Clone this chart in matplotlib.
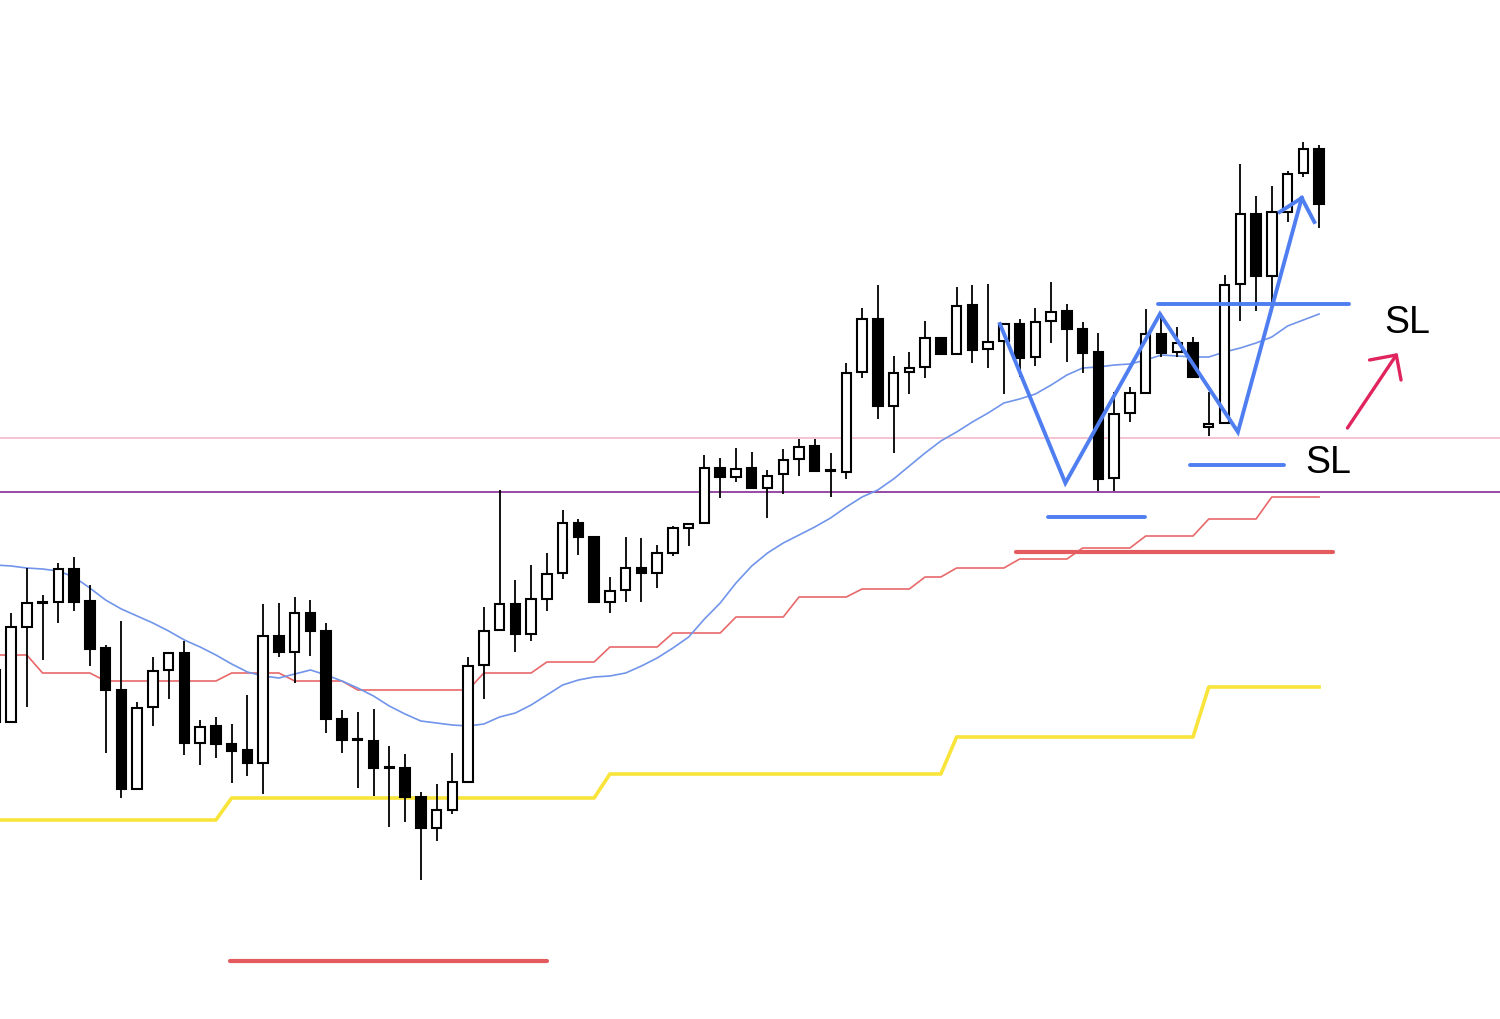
import numpy as np
import matplotlib.pyplot as plt

# OHLC (price units), first candle is cut at the left edge
opens = [330, 278, 373, 397, 398, 431, 399, 352, 310, 211, 293, 330, 347, 257, 274, 256, 250, 237, 364, 348,
         387, 369, 281, 261, 259, 233, 232, 203, 172, 190, 218, 335, 370, 396, 366, 401, 427, 477, 463, 398,
         410, 432, 427, 447, 472, 477, 532, 523, 532, 512, 526, 541, 554, 529, 528, 628, 681, 594, 628, 633,
         662, 646, 695, 651, 659, 676, 643, 679, 689, 671, 648, 522, 587, 607, 666, 648, 657, 573, 577, 716,
         786, 724, 788, 827, 851]
highs = [335, 387, 432, 405, 437, 443, 415, 355, 379, 298, 343, 348, 359, 280, 283, 276, 305, 396, 397, 403,
         400, 377, 290, 288, 291, 254, 246, 208, 216, 247, 343, 393, 510, 420, 435, 447, 490, 481, 463, 423,
         463, 462, 455, 474, 476, 545, 542, 552, 548, 530, 551, 561, 561, 547, 637, 692, 715, 644, 648, 679,
         662, 713, 715, 716, 676, 681, 692, 718, 696, 678, 667, 608, 613, 691, 687, 673, 663, 608, 725, 836,
         804, 814, 829, 858, 855]
lows = [275, 277, 293, 340, 377, 389, 334, 247, 202, 210, 274, 301, 245, 235, 242, 217, 224, 206, 343, 317,
        344, 267, 247, 212, 204, 173, 178, 120, 159, 186, 218, 301, 370, 348, 359, 389, 421, 445, 398, 387,
        398, 398, 412, 444, 454, 477, 502, 518, 512, 482, 506, 524, 528, 503, 521, 622, 581, 547, 606, 622,
        646, 646, 637, 632, 606, 623, 634, 657, 638, 627, 509, 509, 578, 607, 643, 643, 623, 564, 577, 679,
        689, 695, 778, 823, 772]
closes = [278, 373, 397, 398, 431, 398, 351, 310, 211, 292, 329, 347, 257, 273, 256, 249, 237, 364, 348, 387,
          369, 281, 260, 260, 232, 232, 203, 172, 190, 218, 334, 369, 396, 366, 401, 426, 477, 463, 398, 409,
          432, 427, 447, 472, 476, 532, 523, 531, 512, 524, 540, 553, 529, 529, 627, 681, 594, 627, 632, 662,
          646, 694, 650, 658, 676, 642, 678, 688, 671, 647, 521, 586, 607, 666, 647, 657, 623, 576, 715, 786,
          724, 788, 826, 851, 796]

# moving average (thin blue)
ma_blue = [435, 434, 432, 431, 429, 423, 412, 400, 391, 384, 377, 369, 360, 353, 345, 336, 328, 324, 322, 326,
           330, 325, 319, 312, 304, 294, 286, 279, 277, 275, 274, 276, 283, 287, 295, 305, 315, 320, 323, 324,
           327, 334, 342, 352, 363, 381, 397, 417, 434, 447, 457, 465, 473, 482, 493, 503, 510, 521, 534, 547,
           559, 568, 578, 587, 597, 601, 606, 615, 625, 632, 633, 635, 636, 640, 645, 644, 643, 643, 648, 652,
           657, 663, 674, 680, 686]
# higher timeframe levels
line_red = [345, 345, 345, 327, 327, 327, 327, 319, 319, 319, 319, 319, 319, 319, 319, 327, 327, 327, 327, 319,
            319, 319, 319, 310, 310, 310, 310, 310, 310, 310, 310, 327, 327, 327, 327, 338, 338, 338, 338, 353,
            353, 353, 353, 367, 367, 367, 367, 383, 383, 383, 383, 403, 403, 403, 403, 411, 411, 411, 411, 423,
            423, 432, 432, 432, 432, 441, 441, 441, 441, 452, 452, 452, 452, 464, 464, 464, 464, 481, 481, 481,
            481, 503, 503, 503, 503]
line_yellow = [180, 180, 180, 180, 180, 180, 180, 180, 180, 180, 180, 180, 180, 180, 180, 202, 202, 202, 202, 202,
               202, 202, 202, 202, 202, 202, 202, 202, 202, 202, 202, 202, 202, 202, 202, 202, 202, 202, 202, 226,
               226, 226, 226, 226, 226, 226, 226, 226, 226, 226, 226, 226, 226, 226, 226, 226, 226, 226, 226, 226,
               226, 263, 263, 263, 263, 263, 263, 263, 263, 263, 263, 263, 263, 263, 263, 263, 263, 313, 313, 313,
               313, 313, 313, 313, 313]

# horizontal levels
level_pink = 562
level_purple = 508

# drawn annotations (x in bar index, y in price)
zigzag_x = [62.75, 66.9, 72.9, 77.85, 81.9, 82.7]
zigzag_y = [676, 517, 686, 568, 802, 778]
zig_head_x = [80.5, 81.9]
zig_head_y = [788, 802]
blue_segments = [(65.8, 71.95, 483), (74.8, 80.8, 535), (72.8, 84.9, 696)]
red_segments = [(63.8, 83.9, 448), (13.9, 34.0, 39)]
arrow_x = [84.8, 87.9]
arrow_y = [572, 645]
arrow_head_x = [86.2, 87.9, 88.2]
arrow_head_y = [640, 645, 620]
labels = [("SL", 88.6, 677), ("SL", 83.6, 537)]

x = np.arange(-1, len(opens) - 1)
o = np.array(opens)
c = np.array(closes)

fig = plt.figure(figsize=(15, 10.19), dpi=100)
ax = fig.add_axes([0, 0, 1, 1])
ax.set_xlim(-0.7, 94.48)
ax.set_ylim(-19, 1000)
ax.axis('off')

ax.axhline(level_pink, color='#f3b9c9', lw=1.2, zorder=1)
ax.axhline(level_purple, color='#8e3a9e', lw=1.3, zorder=1)

ax.plot(x, line_yellow, color='#f8e43a', lw=2.6, zorder=2)
ax.plot(x, line_red, color='#e8686a', lw=1.2, zorder=2)
ax.plot(x, ma_blue, color='#7195ea', lw=1.2, zorder=2)

# candles
ax.vlines(x, lows, highs, color='black', lw=1.3, zorder=3)
bottom = np.minimum(o, c)
height = np.maximum(np.abs(c - o), 1)
face = ['black' if cc < oo else 'white' for oo, cc in zip(o, c)]
ax.bar(x, height, bottom=bottom, width=0.6, color=face, edgecolor='black', lw=1.5, zorder=4)

# annotations
for x0, x1, yv in red_segments:
    ax.plot([x0, x1], [yv, yv], color='#e35a5f', lw=3, solid_capstyle='round', zorder=5)
for x0, x1, yv in blue_segments:
    ax.plot([x0, x1], [yv, yv], color='#4f7ef0', lw=2.8, solid_capstyle='round', zorder=5)
ax.plot(zigzag_x[:5], zigzag_y[:5], color='#4f7ef0', lw=2.8, solid_joinstyle='miter', zorder=5)
ax.plot(zigzag_x[4:], zigzag_y[4:], color='#4f7ef0', lw=2.8, zorder=5)
ax.plot(zig_head_x, zig_head_y, color='#4f7ef0', lw=2.8, zorder=5)

ax.plot(arrow_x, arrow_y, color='#e0245e', lw=2.4, solid_capstyle='round', zorder=5)
ax.plot(arrow_head_x, arrow_head_y, color='#e0245e', lw=2.4, solid_capstyle='round', zorder=5)

for txt, tx, ty in labels:
    ax.text(tx, ty, txt, fontsize=27, family='Liberation Sans', ha='center', va='center', color='black')

plt.savefig('out.png', dpi=100)
